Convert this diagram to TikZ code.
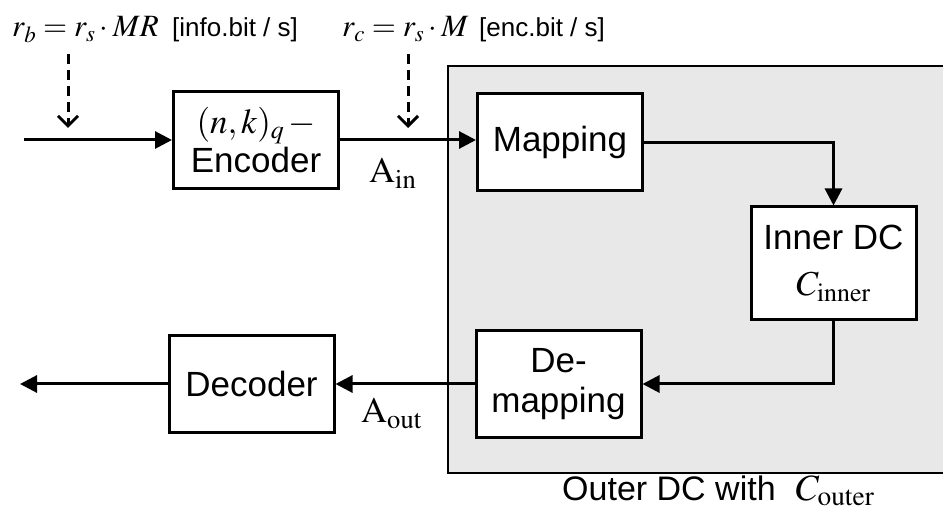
\documentclass[tikz,border=0pt]{standalone}
\usepackage{mathptmx}
\usepackage[no-math]{fontspec}
\setmainfont{Liberation Sans}
\usetikzlibrary{arrows.meta}
\definecolor{outergray}{HTML}{E8E8E8}
\begin{document}
\begin{tikzpicture}[x=1pt,y=-1pt,
  box/.style={draw,line width=3pt,fill=white,minimum width=165pt,minimum height=97pt,
    inner sep=0pt,align=center,font=\fontsize{35}{40}\selectfont},
  conn/.style={line width=3pt,-{Triangle[length=17pt,width=17pt]}},
  rate/.style={line width=3pt,dash pattern=on 10pt off 6pt,
    -{Straight Barb[length=10pt,width=20pt,line width=3pt]}},
  lbl/.style={anchor=base west,inner sep=0pt},
  big/.style={font=\fontsize{36}{40}\selectfont},
  mid/.style={font=\fontsize{31}{34}\selectfont},
  small/.style={font=\fontsize{26}{30}\selectfont}]
\useasboundingbox (0,0) rectangle (943,521);
\begin{scope}
  \clip (0,0) rectangle (943,521);
  \draw[line width=2.6pt,fill=outergray] (448,66) rectangle (970,473);
\end{scope}

% blocks
\node[box] (enc) at (256,140) {$(n,k)_q\,-$\\[-1pt]Encoder};
\node[box] (map) at (560,142.5) {Mapping};
\node[box,minimum height=113pt] (inner) at (833.5,263.5) {Inner DC\\[6pt]$C_{\mathrm{inner}}$};
\node[box,minimum height=107pt] (demap) at (558.5,384) {De-\\mapping};
\node[box] (dec) at (251.5,384) {Decoder};

% free ends
\coordinate (src) at (24,140);
\coordinate (sink) at (20,384);
\coordinate (rbtop) at (68,54);
\coordinate (rbbot) at (68,128);
\coordinate (rctop) at (408,54);
\coordinate (rcbot) at (408,128);

% connectors
\draw[conn] (src) -- (enc.west);
\draw[conn] (enc.east) -- (map.west |- enc.east);
\draw[conn] (map.east) -| (inner.north);
\draw[conn] (inner.south) |- (demap.east);
\draw[conn] (demap.west) -- (dec.east |- demap.west);
\draw[conn] (dec.west) -- (sink);

\draw[rate] (rbtop) -- (rbbot);
\draw[rate] (rctop) -- (rcbot);

% labels
\node[lbl,mid] (rb) at (12,37) {$r_b=r_s\cdot MR$};
\node[lbl,small] (rbu) at (172,37) {[info.bit / s]};
\node[lbl,mid] (rc) at (342,37) {$r_c=r_s\cdot M$};
\node[lbl,small] (rcu) at (479,37) {[enc.bit / s]};
\node[lbl,big] (ain) at (369,183) {$\mathrm{A}_{\mathrm{in}}$};
\node[lbl,big] (aout) at (361,423) {$\mathrm{A}_{\mathrm{out}}$};
\node[lbl,font=\fontsize{34}{40}\selectfont] (cap) at (562,500) {Outer DC with\hspace{20pt}{\fontsize{37}{40}\selectfont$C_{\mathrm{outer}}$}};
\end{tikzpicture}
\end{document}
